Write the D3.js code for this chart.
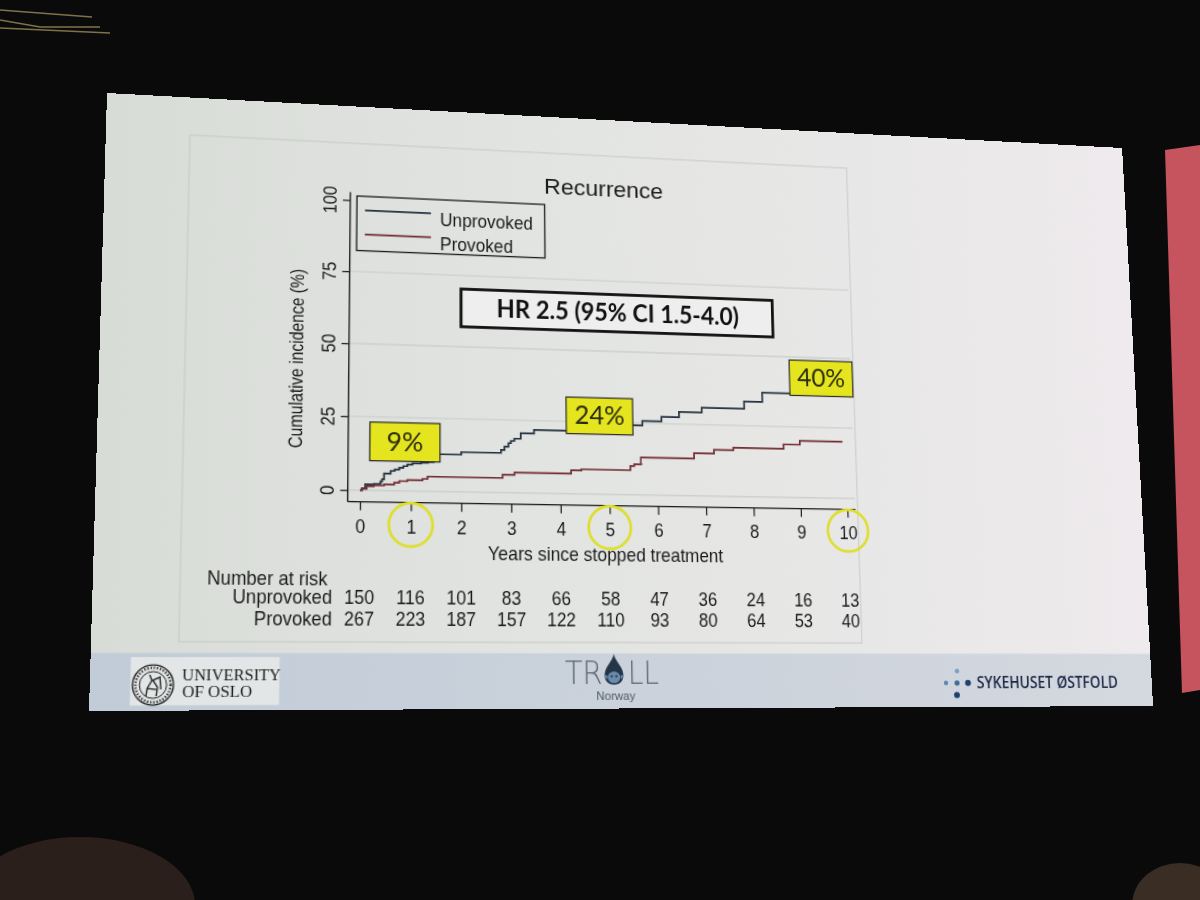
<!DOCTYPE html>
<html>
<head>
<meta charset="UTF-8">
<title>Recurrence</title>
<style>
  html, body { margin: 0; padding: 0; width: 1200px; height: 900px; overflow: hidden; background: #0b0b0b; }
  #room { position: absolute; left: 0; top: 0; }
  #slide { position: absolute; left: 0; top: 0; width: 1024px; height: 576px; transform-origin: 0 0; }
  #slide text { font-family: "Liberation Sans", Arial, sans-serif; fill: #1b1b1b; }
</style>
</head>
<body>
<svg id="room" width="1200" height="900"></svg>
<div id="slide"><svg width="1024" height="576"></svg></div>
<script src="https://cdn.jsdelivr.net/npm/d3@7"></script>
<script>
// chart values
var years = [0, 1, 2, 3, 4, 5, 6, 7, 8, 9, 10];
var yTicks = [0, 25, 50, 75, 100];
var gridValues = [0, 25, 50, 75];
var atRiskUnprovoked = [150, 116, 101, 83, 66, 58, 47, 36, 24, 16, 13];
var atRiskProvoked = [267, 223, 187, 157, 122, 110, 93, 80, 64, 53, 40];

var unprovokedTime = [0, 0.04, 0.1, 0.27, 0.4, 0.43, 0.47, 0.6, 0.68, 0.77, 0.85, 0.93, 1.03, 1.2, 1.34, 1.45, 1.52, 2.0, 2.8, 2.87,
  2.95, 3.0, 3.07, 3.2, 3.47, 4.4, 4.9, 5.7, 6.1, 6.47, 6.95, 7.85, 8.24, 9.1, 9.6, 10.0];
var unprovokedPct = [0, 0.7, 2.0, 2.2, 3.0, 3.8, 5.8, 6.7, 7.2, 7.8, 8.4, 9.0, 9.4, 9.7, 10.0, 11.3, 12.7, 13.6, 14.6, 15.8,
  17.0, 17.8, 18.6, 20.5, 21.8, 23.0, 24.2, 25.8, 27.4, 29.3, 31.0, 33.6, 36.9, 38.6, 40.0, 40.0];
var provokedTime = [0, 0.03, 0.13, 0.27, 0.47, 0.67, 0.77, 0.93, 1.23, 1.33, 2.83, 3.07, 4.22, 4.43, 5.44, 5.52, 5.66, 6.77, 7.19, 7.6,
  8.67, 9.02, 9.94];
var provokedPct = [0, 0.5, 1.4, 1.7, 2.1, 2.7, 3.3, 3.7, 4.2, 5.0, 6.1, 6.9, 8.1, 8.5, 10.0, 10.6, 13.0, 14.9, 16.2, 17.1,
  18.7, 20.1, 20.1];

var seriesNames = ['Unprovoked', 'Provoked'];
var seriesColors = ['#25323f', '#722c32'];
var calloutLabels = ['9%', '24%', '40%'];
var circledYears = [1, 5, 10];
var hrLabel = 'HR 2.5 (95% CI 1.5-4.0)';

// layout: where things sit in the photo (pixels), mapped back onto the flat slide
var W = 1024, H = 576;
var corners = [[107, 93], [1122, 148], [1153, 706], [89, 711]];
var calloutBoxes = [[370, 422, 440, 462], [566, 397, 633, 435], [789, 360, 853, 397]];

// perspective of the photographed screen
function solve(A, b) {
  var n = b.length, M = A.map(function (r, i) { return r.concat([b[i]]); });
  for (var c = 0; c < n; c++) {
    var p = c;
    for (var r = c + 1; r < n; r++) if (Math.abs(M[r][c]) > Math.abs(M[p][c])) p = r;
    var tmp = M[c]; M[c] = M[p]; M[p] = tmp;
    for (r = 0; r < n; r++) {
      if (r === c) continue;
      var f = M[r][c] / M[c][c];
      for (var k = c; k <= n; k++) M[r][k] -= f * M[c][k];
    }
  }
  return M.map(function (r, i) { return r[n] / r[i]; });
}
var rows = [], rhs = [];
[[0, 0], [W, 0], [W, H], [0, H]].forEach(function (p, i) {
  var x = p[0], y = p[1], u = corners[i][0], v = corners[i][1];
  rows.push([x, y, 1, 0, 0, 0, -u * x, -u * y]); rhs.push(u);
  rows.push([0, 0, 0, x, y, 1, -v * x, -v * y]); rhs.push(v);
});
var h = solve(rows, rhs);
h.push(1);
d3.select('#slide').style('transform', 'matrix3d(' +
  [h[0], h[3], 0, h[6], h[1], h[4], 0, h[7], 0, 0, 1, 0, h[2], h[5], 0, 1].join(',') + ')');

function inv3(m) {
  var a = m[0], b = m[1], c = m[2], d = m[3], e = m[4], f = m[5], g = m[6], hh = m[7], i = m[8];
  var A = e * i - f * hh, B = -(d * i - f * g), C = d * hh - e * g;
  var det = a * A + b * B + c * C;
  return [A / det, -(b * i - c * hh) / det, (b * f - c * e) / det,
    B / det, (a * i - c * g) / det, -(a * f - c * d) / det,
    C / det, -(a * hh - b * g) / det, (a * e - b * d) / det];
}
var hi = inv3(h);
function F(u, v) {
  var w = hi[6] * u + hi[7] * v + hi[8];
  return [(hi[0] * u + hi[1] * v + hi[2]) / w, (hi[3] * u + hi[4] * v + hi[5]) / w];
}
function rectFrom(box) {
  var a = F(box[0], box[1]), b = F(box[2], box[3]);
  return { x: a[0], y: a[1], w: b[0] - a[0], h: b[1] - a[1] };
}
// squeeze text a little, the slide font is narrower than Arial
function narrow(sel, k) {
  sel.each(function () {
    var n = this.getComputedTextLength();
    d3.select(this).attr('textLength', n * k).attr('lengthAdjust', 'spacingAndGlyphs');
  });
}

// ---------- the room around the screen ----------
var room = d3.select('#room');
room.append('rect').attr('width', 1200).attr('height', 900).attr('fill', '#0a0a0a');
room.append('path').attr('d', 'M0,10L92,17M0,28L110,33M0,20L40,27L100,27')
  .attr('stroke', '#9c8c5a').attr('stroke-width', 1.5).attr('fill', 'none').attr('opacity', 0.8);
room.append('polygon').attr('points', '1165,150 1200,145 1200,690 1182,693').attr('fill', '#c5545f');
room.append('ellipse').attr('cx', 80).attr('cy', 905).attr('rx', 115).attr('ry', 68).attr('fill', '#2a1f1a');
room.append('ellipse').attr('cx', 1180).attr('cy', 905).attr('rx', 48).attr('ry', 42).attr('fill', '#3a2d24');

// ---------- the slide ----------
var svg = d3.select('#slide svg');
var defs = svg.append('defs');
var bg = defs.append('linearGradient').attr('id', 'bg');
bg.append('stop').attr('offset', 0).attr('stop-color', '#d8dcd7');
bg.append('stop').attr('offset', 0.45).attr('stop-color', '#e3e5e2');
bg.append('stop').attr('offset', 1).attr('stop-color', '#eeeaed');
var fg = defs.append('linearGradient').attr('id', 'foot');
fg.append('stop').attr('offset', 0).attr('stop-color', '#c1ccd8');
fg.append('stop').attr('offset', 0.5).attr('stop-color', '#cbd2db');
fg.append('stop').attr('offset', 1).attr('stop-color', '#d4d8df');

svg.append('rect').attr('width', W).attr('height', H).attr('fill', 'url(#bg)');

var region = rectFrom([190, 135, 862, 643]);
svg.append('rect').attr('x', region.x).attr('y', region.y).attr('width', region.w).attr('height', region.h)
  .attr('fill', 'none').attr('stroke', '#c6cac6').attr('stroke-width', 1);

// scales
var o = F(360, 490), e = F(847, 498.5), t = F(350, 200);
var x = d3.scaleLinear().domain([0, 10]).range([o[0], e[0]]);
var y = d3.scaleLinear().domain([0, 100]).range([(o[1] + e[1]) / 2, t[1]]);
var axisX = F(349, 345)[0];
var axisY = F(600, 505.5)[1];
var plotRight = F(855, 500)[0];
var axisTop = F(350, 192)[1];

// gridlines
svg.append('g').selectAll('line').data(gridValues).enter().append('line')
  .attr('x1', axisX).attr('x2', plotRight)
  .attr('y1', function (d) { return y(d); }).attr('y2', function (d) { return y(d); })
  .attr('stroke', '#cdd1cd').attr('stroke-width', 1.3);

// axes
var gy = svg.append('g').attr('transform', 'translate(' + axisX + ',0)')
  .call(d3.axisLeft(y).tickValues(yTicks).tickSize(7).tickSizeOuter(0));
gy.select('.domain').remove();
gy.selectAll('.tick line').attr('stroke', '#1b1b1b').attr('stroke-width', 1.2);
gy.selectAll('.tick text').attr('x', 0).attr('y', -13).attr('dy', 0)
  .attr('text-anchor', 'middle').attr('transform', 'rotate(-90)')
  .style('font-size', '18px').style('font-family', '"Liberation Sans", Arial, sans-serif');
narrow(gy.selectAll('.tick text'), 0.9);
svg.append('line').attr('x1', axisX).attr('x2', axisX).attr('y1', axisTop).attr('y2', axisY)
  .attr('stroke', '#1b1b1b').attr('stroke-width', 1.3);

var gx = svg.append('g').attr('transform', 'translate(0,' + axisY + ')')
  .call(d3.axisBottom(x).tickValues(years).tickSize(8).tickPadding(9).tickSizeOuter(0));
gx.select('.domain').remove();
gx.selectAll('.tick line').attr('stroke', '#1b1b1b').attr('stroke-width', 1.2);
gx.selectAll('.tick text').style('font-size', '18px').style('font-family', '"Liberation Sans", Arial, sans-serif');
narrow(gx.selectAll('.tick text'), 0.92);
svg.append('line').attr('x1', axisX).attr('x2', plotRight).attr('y1', axisY).attr('y2', axisY)
  .attr('stroke', '#1b1b1b').attr('stroke-width', 1.3);

// titles
var p = F(604, 196);
svg.append('text').attr('x', p[0]).attr('y', p[1]).attr('text-anchor', 'middle')
  .style('font-size', '23px').text('Recurrence');
p = F(607, 561);
var xt = svg.append('text').attr('x', p[0]).attr('y', p[1]).attr('text-anchor', 'middle')
  .style('font-size', '18px').text('Years since stopped treatment');
narrow(xt, 0.94);
p = F(303, 358);
var yt = svg.append('text').attr('transform', 'translate(' + p[0] + ',' + p[1] + ') rotate(-90)')
  .attr('text-anchor', 'middle').style('font-size', '18px').text('Cumulative incidence (%)');
narrow(yt, 0.84);

// curves
var series = [
  unprovokedTime.map(function (d, i) { return [d, unprovokedPct[i]]; }),
  provokedTime.map(function (d, i) { return [d, provokedPct[i]]; })
];
var line = d3.line().curve(d3.curveStepAfter)
  .x(function (d) { return x(d[0]); }).y(function (d) { return y(d[1]); });
svg.append('g').selectAll('path').data(series).enter().append('path')
  .attr('d', line).attr('fill', 'none')
  .attr('stroke', function (d, i) { return seriesColors[i]; }).attr('stroke-width', 1.7);

// legend
var lg = rectFrom([357, 196, 545, 258]);
svg.append('rect').attr('x', lg.x).attr('y', lg.y).attr('width', lg.w).attr('height', lg.h)
  .attr('fill', 'none').attr('stroke', '#1b1b1b').attr('stroke-width', 1.3);
var lineStart = F(365, 212)[0], lineEnd = F(431, 212)[0], textStart = F(440, 218)[0];
var legendRows = [F(400, 212)[1], F(400, 236)[1]];
var legend = svg.append('g').selectAll('g').data(seriesNames).enter().append('g');
legend.append('line').attr('x1', lineStart).attr('x2', lineEnd)
  .attr('y1', function (d, i) { return legendRows[i]; }).attr('y2', function (d, i) { return legendRows[i]; })
  .attr('stroke', function (d, i) { return seriesColors[i]; }).attr('stroke-width', 1.7);
var lt = legend.append('text').attr('x', textStart).attr('y', function (d, i) { return legendRows[i] + 12; })
  .style('font-size', '18px').text(function (d) { return d; });
narrow(lt, 0.93);

// HR box
var hr = rectFrom([461, 289, 773, 337]);
svg.append('rect').attr('x', hr.x).attr('y', hr.y).attr('width', hr.w).attr('height', hr.h)
  .attr('fill', '#eeeeee').attr('stroke', '#111').attr('stroke-width', 2.8);
svg.append('text').attr('x', hr.x + hr.w / 2).attr('y', hr.y + hr.h / 2 + 8.5).attr('text-anchor', 'middle')
  .attr('textLength', 240).attr('lengthAdjust', 'spacingAndGlyphs')
  .style('font-family', 'Lato, "Open Sans", sans-serif').style('font-weight', 700).style('font-size', '25px')
  .style('fill', '#111').text(hrLabel);

// yellow callouts
var callouts = svg.append('g').selectAll('g').data(calloutLabels).enter().append('g');
callouts.append('rect')
  .attr('x', function (d, i) { return rectFrom(calloutBoxes[i]).x; })
  .attr('y', function (d, i) { return rectFrom(calloutBoxes[i]).y; })
  .attr('width', function (d, i) { return rectFrom(calloutBoxes[i]).w; })
  .attr('height', function (d, i) { return rectFrom(calloutBoxes[i]).h; })
  .attr('fill', '#e5e51f').attr('stroke', '#2a2a2a').attr('stroke-width', 1.2);
callouts.append('text')
  .attr('x', function (d, i) { var r = rectFrom(calloutBoxes[i]); return r.x + r.w / 2; })
  .attr('y', function (d, i) { var r = rectFrom(calloutBoxes[i]); return r.y + r.h / 2 + 8.5; })
  .attr('text-anchor', 'middle')
  .style('font-family', 'Lato, "Open Sans", sans-serif').style('font-size', '25px').style('fill', '#2a2a10')
  .text(function (d) { return d; });

// circled years
svg.append('g').selectAll('circle').data(circledYears).enter().append('circle')
  .attr('cx', function (d) { return x(d); }).attr('cy', axisY + 21).attr('r', 20.5)
  .attr('fill', 'none').attr('stroke', '#dede2c').attr('stroke-width', 2.6);

// number at risk
p = F(207, 584);
var nr = svg.append('text').attr('x', p[0]).attr('y', p[1]).style('font-size', '18px').text('Number at risk');
narrow(nr, 0.93);
var riskRows = [F(590, 605)[1], F(590, 626)[1]];
var labelEnd = F(332, 605)[0];
var risk = svg.append('g').selectAll('g').data([atRiskUnprovoked, atRiskProvoked]).enter().append('g');
var rl = risk.append('text').attr('x', labelEnd).attr('y', function (d, i) { return riskRows[i]; })
  .attr('text-anchor', 'end').style('font-size', '18px')
  .text(function (d, i) { return seriesNames[i]; });
narrow(rl, 0.93);
risk.each(function (vals, i) {
  var nums = d3.select(this).selectAll('text.n').data(vals).enter().append('text').attr('class', 'n')
    .attr('x', function (d, j) { return x(years[j]); }).attr('y', riskRows[i])
    .attr('text-anchor', 'middle').style('font-size', '18px').text(function (d) { return d; });
  narrow(nums, 0.92);
});

// footer band with logos
var footTop = F(100, 653)[1];
svg.append('rect').attr('x', 0).attr('y', footTop).attr('width', W).attr('height', H - footTop).attr('fill', 'url(#foot)');
var uio = rectFrom([131, 657, 279, 705]);
svg.append('rect').attr('x', uio.x).attr('y', uio.y).attr('width', uio.w).attr('height', uio.h).attr('fill', '#e3e6e6');
p = F(153, 685);
var seal = svg.append('g').attr('transform', 'translate(' + p[0] + ',' + p[1] + ')')
  .attr('fill', 'none').attr('stroke', '#2b2b2b');
seal.append('circle').attr('r', 18).attr('stroke-width', 1.3);
seal.append('circle').attr('r', 15.5).attr('stroke-width', 2.2).attr('stroke-dasharray', '1.2 1.6');
seal.append('circle').attr('r', 12).attr('stroke-width', 1);
seal.append('path').attr('d', 'M-3,-9L-1,-4L-5,3L-6,10M0,-4L4,2L3,10M-1,-4L6,-7L7,4M-5,3L3,4')
  .attr('stroke-width', 1.3);
p = F(182, 680);
svg.append('text').attr('x', p[0]).attr('y', p[1]).attr('textLength', 88).attr('lengthAdjust', 'spacingAndGlyphs')
  .style('font-family', '"Liberation Serif", "DejaVu Serif", serif').style('font-size', '15px').text('UNIVERSITY');
p = F(182, 697);
svg.append('text').attr('x', p[0]).attr('y', p[1])
  .style('font-family', '"Liberation Serif", "DejaVu Serif", serif').style('font-size', '15px').text('OF OSLO');

p = F(565, 684);
svg.append('text').attr('x', p[0]).attr('y', p[1]).attr('textLength', 36).attr('lengthAdjust', 'spacingAndGlyphs')
  .style('font-family', '"DejaVu Sans", sans-serif').style('font-weight', 200)
  .style('font-size', '31px').style('fill', '#5d6976').text('TR');
p = F(628, 684);
svg.append('text').attr('x', p[0]).attr('y', p[1]).attr('textLength', 30).attr('lengthAdjust', 'spacingAndGlyphs')
  .style('font-family', '"DejaVu Sans", sans-serif').style('font-weight', 200)
  .style('font-size', '31px').style('fill', '#5d6976').text('LL');
p = F(614, 672);
var drop = svg.append('g').attr('transform', 'translate(' + p[0] + ',' + p[1] + ')');
drop.append('path').attr('d', 'M0,-17C1,-10 9,-5 9,3C9,9 5,12 0,12C-5,12 -9,9 -9,3C-9,-5 -1,-10 0,-17Z').attr('fill', '#243548');
drop.append('ellipse').attr('cx', 0).attr('cy', 5).attr('rx', 6).attr('ry', 5.5).attr('fill', '#6a8bad');
drop.append('path').attr('d', 'M-6,4L-10,2L-7,7ZM6,4L10,2L7,7Z').attr('fill', '#6a8bad');
drop.append('circle').attr('cx', -2.2).attr('cy', 4).attr('r', 1.1).attr('fill', '#243548');
drop.append('circle').attr('cx', 2.2).attr('cy', 4).attr('r', 1.1).attr('fill', '#243548');
p = F(616, 700);
svg.append('text').attr('x', p[0]).attr('y', p[1]).attr('text-anchor', 'middle')
  .style('font-size', '11px').style('fill', '#4d5965').text('Norway');

var dots = [[957, 671, 2.3, '#7ea0c6'], [946, 683, 2.2, '#5d86b4'], [957, 683, 2.6, '#3e6a9e'],
  [968, 683, 3, '#1f3f6e'], [957, 695, 3, '#1f3f6e']];
svg.append('g').selectAll('circle').data(dots).enter().append('circle')
  .attr('cx', function (d) { return F(d[0], d[1])[0]; }).attr('cy', function (d) { return F(d[0], d[1])[1]; })
  .attr('r', function (d) { return d[2]; }).attr('fill', function (d) { return d[3]; });
p = F(977, 688);
svg.append('text').attr('x', p[0]).attr('y', p[1]).attr('textLength', 148).attr('lengthAdjust', 'spacingAndGlyphs')
  .style('font-family', '"Open Sans", sans-serif').style('font-weight', 600).style('font-size', '16px')
  .style('fill', '#1d2848').text('SYKEHUSET ØSTFOLD');
</script>
</body>
</html>
